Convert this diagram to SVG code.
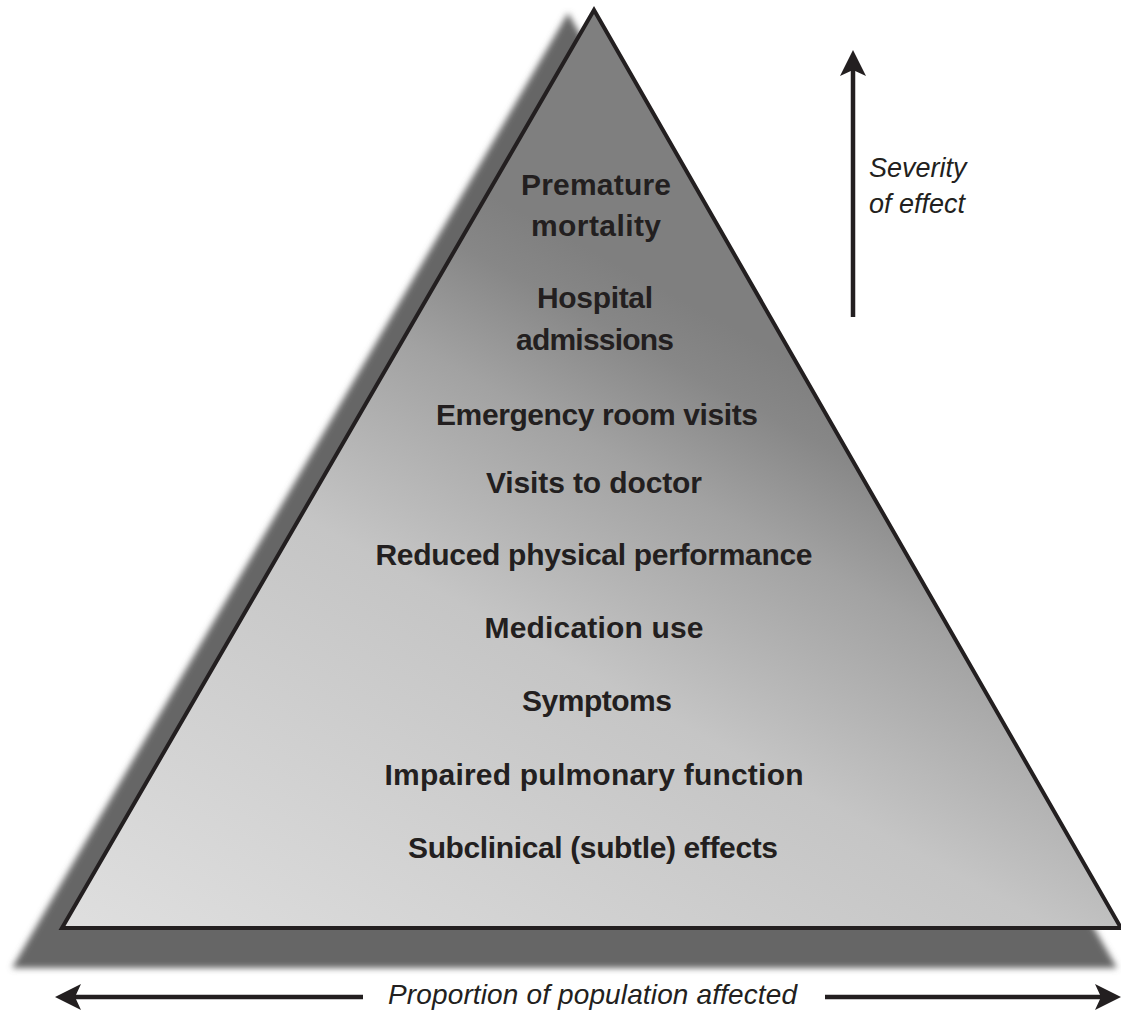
<svg xmlns="http://www.w3.org/2000/svg" width="1121" height="1013" viewBox="0 0 1121 1013">
  <style>
    .lvl { font-family: "Liberation Sans", Arial, sans-serif; font-weight: bold; font-size: 30px; fill: #231f20; text-anchor: middle; }
    .axis { font-family: "Liberation Sans", Arial, sans-serif; font-style: italic; fill: #231f20; }
    .conn { stroke: #231f20; stroke-width: 4.5; fill: none; }
  </style>
  <defs>
    <linearGradient id="pyrFill" gradientUnits="userSpaceOnUse" x1="62" y1="928" x2="469" y2="183">
      <stop offset="0" stop-color="#dfdfdf"/>
      <stop offset="0.56" stop-color="#c5c5c5"/>
      <stop offset="0.80" stop-color="#a2a2a2"/>
      <stop offset="0.93" stop-color="#878787"/>
      <stop offset="1" stop-color="#7f7f7f"/>
    </linearGradient>
    <filter id="blur" x="-5%" y="-5%" width="110%" height="110%">
      <feGaussianBlur stdDeviation="3"/>
    </filter>
    <marker id="head" markerUnits="userSpaceOnUse" markerWidth="28" markerHeight="28" refX="16" refY="13" orient="auto" viewBox="0 0 28 26">
      <path d="M0,0 L26,13 L0,26 L6,13 Z" fill="#231f20"/>
    </marker>
  </defs>

  <g id="pyramid">
    <polygon id="shadow" points="568,13 12,968 1117,968" fill="#666666" filter="url(#blur)"/>
    <polygon id="triangle" points="594,10 62,928 1121,928" fill="url(#pyrFill)" stroke="#231f20" stroke-width="4"/>
  </g>

  <g id="levels">
    <g id="premature-mortality">
      <text class="lvl" x="596" y="195" textLength="150">Premature</text>
      <text class="lvl" x="596" y="236" textLength="130">mortality</text>
    </g>
    <g id="hospital-admissions">
      <text class="lvl" x="595" y="308" textLength="116">Hospital</text>
      <text class="lvl" x="595" y="350" textLength="158">admissions</text>
    </g>
    <g id="emergency"><text class="lvl" x="597" y="425" textLength="322">Emergency room visits</text></g>
    <g id="doctor"><text class="lvl" x="594" y="493" textLength="216">Visits to doctor</text></g>
    <g id="performance"><text class="lvl" x="594" y="565" textLength="437">Reduced physical performance</text></g>
    <g id="medication"><text class="lvl" x="594" y="638" textLength="219">Medication use</text></g>
    <g id="symptoms"><text class="lvl" x="597" y="711" textLength="150">Symptoms</text></g>
    <g id="pulmonary"><text class="lvl" x="594" y="785" textLength="419">Impaired pulmonary function</text></g>
    <g id="subclinical"><text class="lvl" x="593" y="858" textLength="370">Subclinical (subtle) effects</text></g>
  </g>

  <g id="connectors">
    <line class="conn" x1="853" y1="317" x2="853" y2="60" marker-end="url(#head)"/>
    <line class="conn" x1="363" y1="997" x2="65" y2="997" marker-end="url(#head)"/>
    <line class="conn" x1="825" y1="997" x2="1111" y2="997" marker-end="url(#head)"/>
  </g>

  <g id="axis-labels">
    <text class="axis" x="869" y="177" font-size="27">Severity</text>
    <text class="axis" x="869" y="213" font-size="27">of effect</text>
    <text class="axis" x="388" y="1004" font-size="28" textLength="409">Proportion of population affected</text>
  </g>
</svg>
